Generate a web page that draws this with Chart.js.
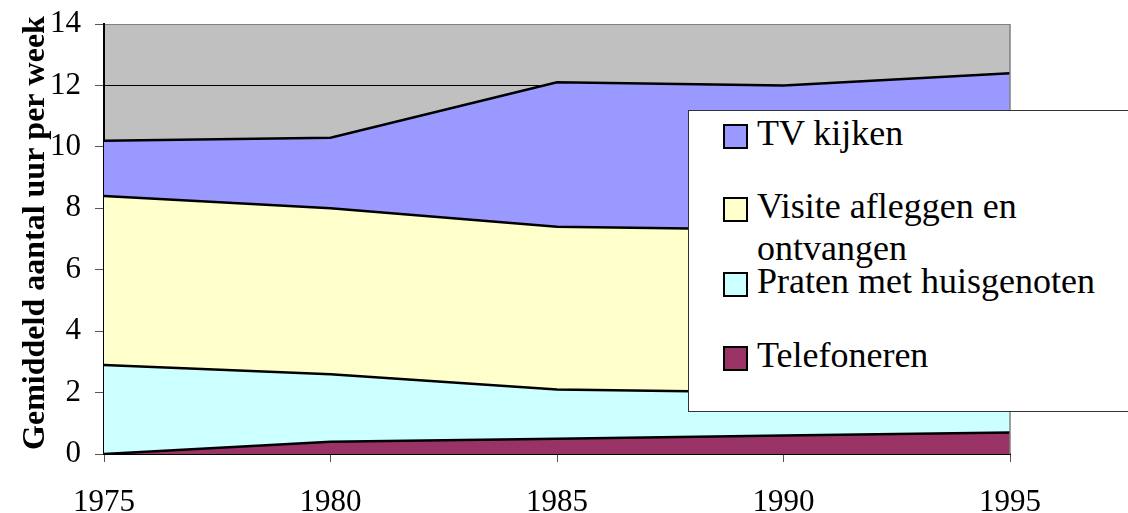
<!DOCTYPE html>
<html>
<head>
<meta charset="utf-8">
<script src="https://cdn.jsdelivr.net/npm/chart.js@4"></script>
<style>
  html, body { margin: 0; padding: 0; background: #fff; overflow: hidden; }
  #wrap { position: relative; width: 1128px; height: 513px; }
  #legend {
    position: absolute; left: 688px; top: 110px; width: 460px; height: 300px;
    background: #fff; border: 1px solid #333;
    font-family: "Liberation Serif", "Times New Roman", serif; font-size: 36px;
  }
  .item { position: absolute; left: 34px; width: 440px; line-height: 42px; }
  .box { position: absolute; left: 0; top: 12px; width: 21px; height: 21px; border: 2px solid #000; }
  .txt { position: absolute; left: 34px; width: 340px; white-space: normal; }
</style>
</head>
<body>
<div id="wrap">
  <canvas id="myAreaChart" width="1128" height="513"></canvas>
  <div id="legend"></div>
</div>
<script>
// Categories
const years = ["1975", "1980", "1985", "1990", "1995"];
// Series values (hours per week, per activity)
const telefoneren = [0.0, 0.4, 0.5, 0.6, 0.7];
const praten = [2.9, 2.2, 1.6, 1.4, 1.2];
const visite = [5.5, 5.4, 5.3, 5.3, 5.3];
const tvKijken = [1.8, 2.3, 4.7, 4.7, 5.2];
const yTicks = [0, 2, 4, 6, 8, 10, 12, 14];
const yTitle = "Gemiddeld aantal uur per week";

const seriesLabels = ["Telefoneren", "Praten met huisgenoten", "Visite afleggen en ontvangen", "TV kijken"];
const seriesColors = ["#993366", "#CCFFFF", "#FFFFCC", "#9999FF"];
const seriesData = [telefoneren, praten, visite, tvKijken];

const serif = "'Liberation Serif', 'Times New Roman', serif";

// Plot background, right border and the rotated y title
const plotFrame = {
  id: "plotFrame",
  beforeDraw(chart) {
    const a = chart.chartArea;
    const ctx = chart.ctx;
    ctx.save();
    ctx.fillStyle = "#C0C0C0";
    ctx.fillRect(a.left, a.top, a.right - a.left, a.bottom - a.top);
    ctx.restore();
  },
  afterDatasetsDraw(chart) {
    const a = chart.chartArea;
    const ctx = chart.ctx;
    ctx.save();
    ctx.strokeStyle = "#808080";
    ctx.lineWidth = 1.5;
    ctx.beginPath();
    ctx.moveTo(a.right, a.top);
    ctx.lineTo(a.right, a.bottom);
    ctx.stroke();
    ctx.restore();
  },
  afterDraw(chart) {
    const ctx = chart.ctx;
    ctx.save();
    ctx.translate(44, 233);
    ctx.rotate(-Math.PI / 2);
    ctx.fillStyle = "#000";
    ctx.font = "bold 32px " + serif;
    ctx.textAlign = "center";
    ctx.textBaseline = "alphabetic";
    ctx.fillText(yTitle, 0, 0);
    ctx.restore();
  },
};

const ctxArea = document.getElementById("myAreaChart");
const myAreaChart = new Chart(ctxArea, {
  type: "line",
  data: {
    labels: years,
    datasets: seriesData.map((d, i) => ({
      label: seriesLabels[i],
      data: d,
      backgroundColor: seriesColors[i],
      borderColor: "#000",
      borderWidth: 2.5,
      pointRadius: 0,
      tension: 0,
      fill: i === 0 ? "origin" : "-1",
    })),
  },
  options: {
    responsive: false,
    animation: false,
    layout: { padding: { top: 24, right: 118, left: 0, bottom: 0 } },
    plugins: { legend: { display: false }, tooltip: { enabled: false } },
    scales: {
      x: {
        offset: false,
        grid: { drawOnChartArea: false, tickLength: 8, color: "#555" },
        border: { color: "#000", width: 2 },
        ticks: { color: "#000", padding: 22, maxRotation: 0, font: { family: serif, size: 31 } },
        afterFit: (s) => { s.height = 59; },
      },
      y: {
        stacked: true,
        min: 0,
        max: 14,
        afterBuildTicks: (s) => { s.ticks = yTicks.map((v) => ({ value: v })); },
        grid: {
          color: (c) => (c.tick && c.tick.value === 14 ? "#808080" : "#000"),
          tickColor: "#555",
          tickLength: 9,
          lineWidth: 1,
        },
        border: { color: "#000", width: 2 },
        ticks: { color: "#000", padding: 14, font: { family: serif, size: 31, lineHeight: 0.6 } },
        afterFit: (s) => { s.width = 104; },
      },
    },
  },
  plugins: [plotFrame],
});

// Legend drawn on top of the plot, as in the original
const legendTops = [1, 74, 149, 223];
const legendOrder = [3, 2, 1, 0];
const legendEl = document.getElementById("legend");
legendOrder.forEach((idx, row) => {
  const item = document.createElement("div");
  item.className = "item";
  item.style.top = legendTops[row] + "px";
  const box = document.createElement("div");
  box.className = "box";
  box.style.background = seriesColors[idx];
  const txt = document.createElement("div");
  txt.className = "txt";
  if (idx === 1) txt.style.width = "420px";
  txt.textContent = seriesLabels[idx];
  item.appendChild(box);
  item.appendChild(txt);
  legendEl.appendChild(item);
});
</script>
</body>
</html>
